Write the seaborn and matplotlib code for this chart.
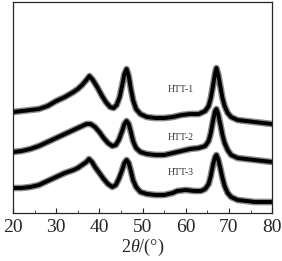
import pandas as pd
import seaborn as sns
import matplotlib
matplotlib.use("Agg")
import matplotlib.pyplot as plt
from matplotlib.ticker import MultipleLocator

# 2theta positions (deg) and intensities (a.u.)
two_theta_1 = [20, 22, 24, 26, 28, 30, 32, 34, 35, 36, 37, 37.7, 38.5, 39.5, 40.5, 41.5, 42.5, 43.3, 44, 44.7,
               45.3, 45.8, 46.3, 46.8, 47.3, 47.8, 48.5, 49.5, 51, 53, 55, 57, 59, 61, 63, 64.5, 65.3, 65.8,
               66.3, 66.8, 67.1, 67.5, 68, 68.5, 69, 69.7, 70.5, 72, 74, 76, 78, 80]
htt1 = [101, 102, 103, 104, 107, 112, 116, 121, 124, 128, 133, 137, 133, 126, 118, 111, 106, 105, 108, 116,
        128, 139, 144, 137, 124, 113, 104, 99, 96, 95, 95, 96, 98, 99, 99, 102, 107, 115,
        127, 140, 145, 139, 127, 115, 107, 100, 96, 93, 92, 91, 90, 89]

two_theta_2 = [20, 22, 24, 26, 28, 30, 32, 34, 36, 37, 38, 39, 40, 41, 42, 43, 43.8, 44.5, 45.2, 45.8,
               46.3, 46.8, 47.3, 47.8, 48.5, 49.5, 51, 53, 55, 57, 59, 61, 63, 64.5, 65.3, 65.8, 66.3,
               66.8, 67.1, 67.5, 68, 68.5, 69, 69.7, 70.5, 72, 74, 76, 78, 80]
htt2 = [61, 62, 64, 67, 71, 75, 79, 83, 87, 89, 89, 86, 81, 75, 70, 67, 68, 73, 81, 89,
        92, 89, 81, 72, 65, 61, 59, 58, 58, 60, 62, 64, 65, 67, 72, 80, 92,
        102, 104, 99, 89, 78, 70, 63, 58, 55, 54, 53, 52, 51]

two_theta_3 = [20, 22, 24, 26, 28, 30, 32, 34, 35, 36, 37, 37.6, 38.3, 39, 40, 41, 42, 43, 43.8, 44.5,
               45.2, 45.8, 46.3, 46.8, 47.3, 47.8, 48.5, 49.5, 51, 53, 55, 57, 58, 60, 62, 63.5, 64.5,
               65.3, 65.8, 66.3, 66.8, 67.1, 67.5, 68, 68.5, 69, 69.7, 70.5, 72, 74, 76, 78, 80]
htt3 = [25, 25, 26, 28, 32, 36, 40, 43, 45, 48, 51, 54, 51, 46, 40, 34, 29, 26, 28, 34,
        42, 50, 53, 50, 42, 33, 26, 21, 19, 18, 18, 20, 22, 23, 22, 22, 24,
        29, 37, 48, 56, 58, 54, 45, 35, 27, 20, 16, 13, 12, 11, 11, 11]

labels = ["HTT-1", "HTT-2", "HTT-3"]
label_x = [55.8, 55.8, 55.8]
label_y = [124, 76, 40]

frames = []
for name, xs, ys in zip(labels, [two_theta_1, two_theta_2, two_theta_3], [htt1, htt2, htt3]):
    frames.append(pd.DataFrame({"2theta": xs, "intensity": ys, "sample": name}))
df = pd.concat(frames, ignore_index=True)

sns.set_style("ticks")
plt.rcParams["font.family"] = ["Liberation Serif", "DejaVu Serif"]
plt.rcParams["mathtext.fontset"] = "custom"
plt.rcParams["mathtext.it"] = "Liberation Serif:italic"
plt.rcParams["mathtext.rm"] = "Liberation Serif"

fig = plt.figure(figsize=(2.82, 2.61), dpi=100)
ax = fig.add_axes([0.046, 0.184, 0.919, 0.808])

# grey halo + black core to mimic the noisy trace
sns.lineplot(data=df, x="2theta", y="intensity", units="sample", estimator=None,
             color="#8a8a8a", linewidth=4.8, ax=ax, legend=False)
sns.lineplot(data=df, x="2theta", y="intensity", units="sample", estimator=None,
             color="black", linewidth=2.8, ax=ax, legend=False)

for name, lx, ly in zip(labels, label_x, label_y):
    ax.text(lx, ly, name, fontsize=7, color="#333333", va="center", ha="left")

ax.set_xlim(20, 80)
ax.set_ylim(0, 211)
ax.xaxis.set_major_locator(MultipleLocator(10))
ax.xaxis.set_minor_locator(MultipleLocator(5))
ax.tick_params(axis="x", which="major", direction="in", length=3.5, width=0.8, labelsize=14, pad=4)
ax.tick_params(axis="x", which="minor", direction="in", length=2, width=0.6)
ax.set_yticks([])
for s in ax.spines.values():
    s.set_linewidth(0.9)
    s.set_visible(True)
ax.set_xlabel(r"2$\mathit{\theta}$/(°)", fontsize=13, labelpad=1)
ax.set_ylabel("")

fig.savefig("out.png", dpi=100)
